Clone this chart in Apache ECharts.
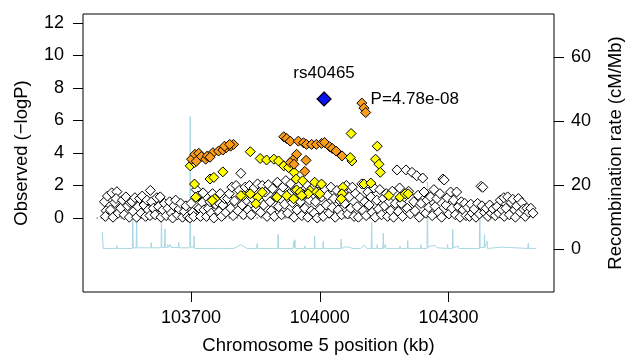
<!DOCTYPE html>
<html><head><meta charset="utf-8">
<script src="https://cdn.jsdelivr.net/npm/echarts@6/dist/echarts.min.js"></script>
<style>html,body{margin:0;padding:0;background:#fff}#c{width:633px;height:360px}</style>
</head><body><div id="c"></div>
<script>
const xTicks = [103700, 104000, 104300];
const yTicks = [0, 2, 4, 6, 8, 10, 12];
const rTicks = [0, 20, 40, 60];
const indexName = 'rs40465';
const indexLabel = 'P=4.78e-08';
const indexSnp = [[104010, 7.32]];
const orangeSnps = [
 [103701,3.62],[103709,3.92],[103718,3.98],[103724,3.78],[103734,3.62],[103738,3.82],[103751,4.02],
 [103764,4.12],[103774,4.18],[103782,4.33],[103792,4.42],[103799,4.53],[103712,3.49],[103744,3.74],
 [103778,4.42],[103790,4.53],
 [103916,5.00],[103923,4.89],[103931,4.73],[103950,4.73],[103962,4.63],[103969,4.53],[103981,4.53],
 [103992,4.53],[104004,4.59],[104011,4.65],[104023,4.39],[104029,4.28],[104038,4.12],[104052,3.82],
 [103946,3.92],[103937,3.57],[103931,3.41],[103940,3.31],[103968,3.55],[103965,2.87],
 [104098,7.07],[104103,6.76],[104107,6.49]
];
const yellowSnps = [
 [103698,3.21],[103708,3.41],[103708,2.09],[103711,1.28],[103744,2.40],[103753,2.50],[103774,2.84],
 [103755,1.18],[103822,1.38],[103838,4.08],[103861,3.66],[103876,3.57],[103893,3.62],[103904,3.51],
 [103916,3.21],[103927,3.11],[103940,2.81],[103945,2.40],[103960,2.29],[103988,2.20],[104004,2.09],
 [103977,1.69],[103946,1.73],[103954,1.59],[103992,1.59],[103749,1.08],[103816,1.38],[103838,1.49],
 [103855,1.28],[103851,0.88],[103900,1.28],[103923,1.38],[103939,1.18],[103973,1.49],[104000,1.49],
 [104075,3.51],[104073,5.20],[104134,4.42],[104130,3.62],[104138,3.31],[104141,2.81],[104054,1.89],
 [104052,1.49],[104050,1.18],[104103,2.09],[104119,2.15],[104161,1.38],[104187,1.28],[104199,1.49],
 [104206,1.49],[104071,3.72],[103958,1.38],[103866,1.59]
];
const whiteSnps = [
 [103498,1.0],[103502,0.45],[103505,1.35],[103500,0.1],
 [103512,0.5],[103515,1.55],[103518,0.05],[103522,0.95],[103527,1.62],[103530,0.3],[103525,1.2],
 [103536,0.6],[103540,1.1],[103544,0.2],[103548,1.3],[103552,0.75],[103556,0.05],[103558,0.95],
 [103562,1.0],[103565,0.4],[103569,1.25],[103573,0.05],[103576,0.7],[103580,1.2],[103583,0.3],
 [103586,1.35],[103590,0.8],[103594,0.1],[103597,1.1],[103600,0.5],[103605,1.7],[103604,0.15],
 [103608,1.0],[103612,0.6],[103616,0.2],[103620,1.25],[103624,0.7],[103628,1.3],[103630,0.05],
 [103634,0.5],[103638,0.9],[103642,0.15],[103646,0.6],[103650,1.0],[103654,0.3],[103657,0.0],
 [103660,0.75],[103664,1.1],[103668,0.2],[103672,0.55],[103676,0.9],[103680,0.05],
 [103684,0.4],[103688,0.75],[103692,0.1],[103697,0.0],[103700,0.9],[103703,0.35],[103706,0.1],
 [103712,1.75],[103716,1.35],[103719,0.6],[103722,0.1],[103726,0.95],[103730,0.5],[103728,1.55],
 [103736,0.1],[103740,0.6],[103744,1.0],[103747,0.3],[103750,1.5],[103753,0.0],[103757,0.85],
 [103762,1.0],[103765,0.4],[103768,1.5],[103771,0.1],[103774,0.8],[103778,1.2],[103781,0.35],
 [103785,1.2],[103789,1.5],[103792,0.6],[103795,1.9],[103798,0.15],[103801,1.05],[103805,2.0],
 [103809,0.45],[103812,1.7],[103816,2.75],[103819,0.8],[103822,0.2],[103826,1.9],[103829,1.1],
 [103833,0.5],[103836,2.0],[103840,0.2],[103843,1.2],[103847,1.85],[103851,0.6],[103855,2.1],
 [103859,1.1],[103862,0.35],[103866,2.0],[103869,0.8],[103873,1.6],[103877,0.1],[103880,2.05],
 [103884,1.0],[103887,0.45],[103890,1.8],[103894,0.1],[103897,1.3],[103901,2.2],[103904,0.7],
 [103908,1.55],[103911,0.2],[103914,1.9],[103918,0.85],[103921,2.3],[103925,0.3],[103929,1.5],
 [103932,2.1],[103936,0.95],[103940,0.05],[103943,1.7],[103947,0.5],[103951,2.0],[103955,1.0],
 [103958,0.15],[103962,1.45],[103965,0.6],[103969,2.05],[103972,0.05],[103976,1.1],[103980,0.45],
 [103983,1.85],[103987,0.3],[103990,1.0],[103994,0.0],[103997,1.6],[104001,0.55],[104004,1.3],
 [104008,0.1],[104011,1.75],[104015,0.8],[104018,1.4],[104022,0.3],[104026,1.9],[104029,0.65],
 [104033,1.2],[104036,0.05],[104040,1.7],[104043,0.5],[104047,1.05],[104051,0.2],[104055,1.6],
 [104058,0.9],[104062,2.0],[104065,0.25],[104069,1.3],[104072,0.6],[104076,1.9],[104080,0.1],
 [104083,1.5],[104087,0.7],[104090,0.05],[104094,1.25],[104098,2.1],[104101,0.45],[104105,1.0],
 [104108,0.15],[104112,1.6],[104115,0.8],[104119,1.3],[104122,0.35],[104126,1.85],[104129,0.05],
 [104133,1.1],[104137,0.55],[104140,1.75],[104144,0.2],[104148,1.2],[104151,0.75],[104155,1.5],
 [104158,0.1],[104162,1.0],[104165,0.45],[104169,1.65],[104172,0.05],[104176,0.9],[104180,2.96],
 [104183,0.4],[104186,1.85],[104190,0.9],[104193,0.1],[104197,1.3],[104201,2.96],[104204,0.6],
 [104207,1.65],[104211,0.25],[104215,2.81],[104219,1.0],[104222,0.45],[104226,2.6],[104229,1.4],
 [104232,0.05],[104236,0.9],[104240,2.46],[104243,1.6],[104247,0.3],[104250,1.1],[104254,0.65],
 [104258,1.3],[104262,0.15],[104266,1.75],[104269,0.7],[104273,1.2],[104277,0.35],[104280,1.5],
 [104284,0.05],[104287,2.4],[104290,2.34],[104294,0.8],[104297,1.25],[104301,0.25],[104305,1.6],
 [104308,0.6],[104312,1.1],[104316,0.2],[104319,1.6],[104323,0.7],[104327,0.05],[104330,1.0],
 [104334,0.5],[104338,0.9],[104341,0.15],[104345,0.65],[104349,0.1],[104352,0.85],[104355,0.3],
 [104360,0.55],[104364,0.05],[104368,0.9],[104372,0.25],[104376,1.95],[104380,1.89],[104378,0.75],
 [104384,0.35],[104388,0.6],[104392,0.1],[104396,0.8],[104400,0.3],[104404,0.55],
 [104409,0.15],[104413,0.7],[104417,0.3],[104421,1.1],[104425,0.5],[104429,1.25],[104430,0.1],
 [104434,0.6],[104438,1.3],[104442,0.2],[104446,0.95],[104450,1.15],[104454,0.5],[104456,0.05],
 [104459,0.75],[104463,1.2],[104467,0.35],[104471,0.95],[104475,0.55],[104479,0.1],
 [104483,0.6],[104487,0.35],[104492,0.6],[104497,0.3]
];
const recombRate = [
 [103493,5.5],[103495,0.3],[103526,0.3],[103527,1.2],[103528,0.3],[103548,0.3],[103549,0.8],[103550,0.3],
 [103563,0.3],[103564,9.0],[103565,0.5],[103572,0.5],[103573,9.6],[103574,0.5],[103606,0.5],[103607,2.1],
 [103608,0.5],[103630,0.5],[103631,9.0],[103632,0.6],[103638,0.6],[103639,6.4],[103640,0.6],[103645,0.6],
 [103646,1.5],[103647,0.6],[103651,0.6],[103652,1.5],[103653,0.6],[103670,0.6],[103671,2.2],[103672,0.5],
 [103697,0.5],[103698,41.5],[103699,0.7],[103706,0.7],[103707,4.2],[103708,0.3],[103771,0.3],[103772,0.8],
 [103773,0.3],[103800,0.3],[103816,1.5],[103830,0.3],[103853,0.3],[103854,1.8],[103855,0.3],[103902,0.3],
 [103903,4.7],[103904,0.3],[103938,0.3],[103939,2.5],[103940,0.6],[103942,3.0],[103943,0.3],[103964,0.3],
 [103965,1.1],[103966,0.3],[103987,0.3],[103988,4.2],[103989,0.3],[104007,0.3],[104008,2.5],[104009,0.3],
 [104049,0.3],[104050,3.2],[104051,0.3],[104055,0.3],[104060,0.8],[104070,0.7],[104075,0.3],[104095,0.3],
 [104103,1.3],[104110,0.3],[104120,0.3],[104121,8.4],[104122,0.3],[104133,0.3],[104134,1.5],[104135,0.3],
 [104147,0.3],[104148,5.1],[104149,0.3],[104153,1.5],[104154,0.3],[104186,0.3],[104187,1.0],[104188,0.3],
 [104204,0.3],[104205,2.8],[104206,0.3],[104235,0.3],[104236,1.5],[104237,0.3],[104250,0.3],[104251,21.0],
 [104252,0.6],[104258,1.1],[104268,1.2],[104275,0.5],[104297,0.3],[104298,1.5],[104299,0.3],[104309,0.3],
 [104310,6.3],[104311,0.5],[104323,1.0],[104324,0.3],[104372,0.3],[104373,13.8],[104374,0.6],[104383,0.6],
 [104384,4.7],[104385,0.6],[104390,2.5],[104391,0.3],[104425,0.7],[104426,0.3],[104485,0.3],[104486,1.9],
 [104487,0.3],[104504,0.3]
];
const zeroLine = [[103480, 0], [104131, 0]];

const FONT = 'Liberation Sans, Arial, sans-serif';
const chart = echarts.init(document.getElementById('c'), null, {renderer: 'canvas'});
const diamond = (data, color, name, z) => ({
  type: 'scatter', name, data, symbol: 'diamond', symbolSize: 10, z,
  itemStyle: {color, borderColor: '#000', borderWidth: 1, opacity: 1},
  emphasis: {disabled: true}
});
chart.setOption({
  animation: false,
  backgroundColor: '#fff',
  textStyle: {fontFamily: FONT},
  grid: {left: 83, right: 72, top: 14, bottom: 65, show: true, borderColor: '#000', borderWidth: 1, backgroundColor: 'transparent'},
  xAxis: {
    type: 'value', min: 103448, max: 104546,
    axisLine: {show: false, onZero: false}, splitLine: {show: false},
    axisTick: {show: true, customValues: xTicks, length: 10, lineStyle: {color: '#000'}},
    axisLabel: {customValues: xTicks, color: '#000', fontSize: 18, fontFamily: FONT, margin: 17, formatter: v => String(v)},
    name: 'Chromosome 5 position (kb)', nameLocation: 'middle', nameGap: 44,
    nameTextStyle: {color: '#000', fontSize: 18.5, fontFamily: FONT}
  },
  yAxis: [{
    type: 'value', min: -4.55, max: 12.55, position: 'left',
    axisLine: {show: false, onZero: false}, splitLine: {show: false},
    axisTick: {show: true, customValues: yTicks, length: 10, lineStyle: {color: '#000'}},
    axisLabel: {customValues: yTicks, color: '#000', fontSize: 18, fontFamily: FONT, margin: 19},
    name: 'Observed (\u2212logP)', nameLocation: 'middle', nameGap: 52, nameRotate: 90,
    nameTextStyle: {color: '#000', fontSize: 18.5, fontFamily: FONT}
  }, {
    type: 'value', min: -13.3, max: 73.5, position: 'right',
    axisLine: {show: false, onZero: false}, splitLine: {show: false},
    axisTick: {show: true, customValues: rTicks, length: 10, lineStyle: {color: '#000'}},
    axisLabel: {customValues: rTicks, color: '#000', fontSize: 18, fontFamily: FONT, margin: 17},
    name: 'Recombination rate (cM/Mb)', nameLocation: 'middle', nameGap: 52, nameRotate: 90,
    nameTextStyle: {color: '#000', fontSize: 18.5, fontFamily: FONT}
  }],
  series: [
    {type: 'line', yAxisIndex: 1, data: recombRate, showSymbol: false, symbol: 'none', z: 1,
     lineStyle: {color: '#a9d6e3', width: 1}, emphasis: {disabled: true}},
    {type: 'line', yAxisIndex: 0, data: zeroLine, showSymbol: false, symbol: 'none', z: 2,
     lineStyle: {color: '#000', width: 1, type: [1, 3]}, emphasis: {disabled: true}},
    diamond(whiteSnps, '#ffffff', 'r2<0.2', 3),
    diamond(yellowSnps, '#ffff00', '0.2-0.5', 4),
    diamond(orangeSnps, '#fb9d1a', '0.5-0.8', 5),
    {type: 'scatter', data: indexSnp, symbol: 'diamond', symbolSize: 14, z: 6,
     itemStyle: {color: '#0a14f0', borderColor: '#000', borderWidth: 1.2, opacity: 1},
     label: {show: true, position: 'top', distance: 10, formatter: indexName, color: '#000', fontSize: 17, fontFamily: FONT},
     emphasis: {disabled: true}},
    {type: 'scatter', data: indexSnp, symbol: 'circle', symbolSize: 1, z: 7,
     itemStyle: {opacity: 0},
     label: {show: true, position: 'right', distance: 46, formatter: indexLabel, color: '#000', fontSize: 17, fontFamily: FONT, opacity: 1},
     emphasis: {disabled: true}}
  ]
});
</script></body></html>
